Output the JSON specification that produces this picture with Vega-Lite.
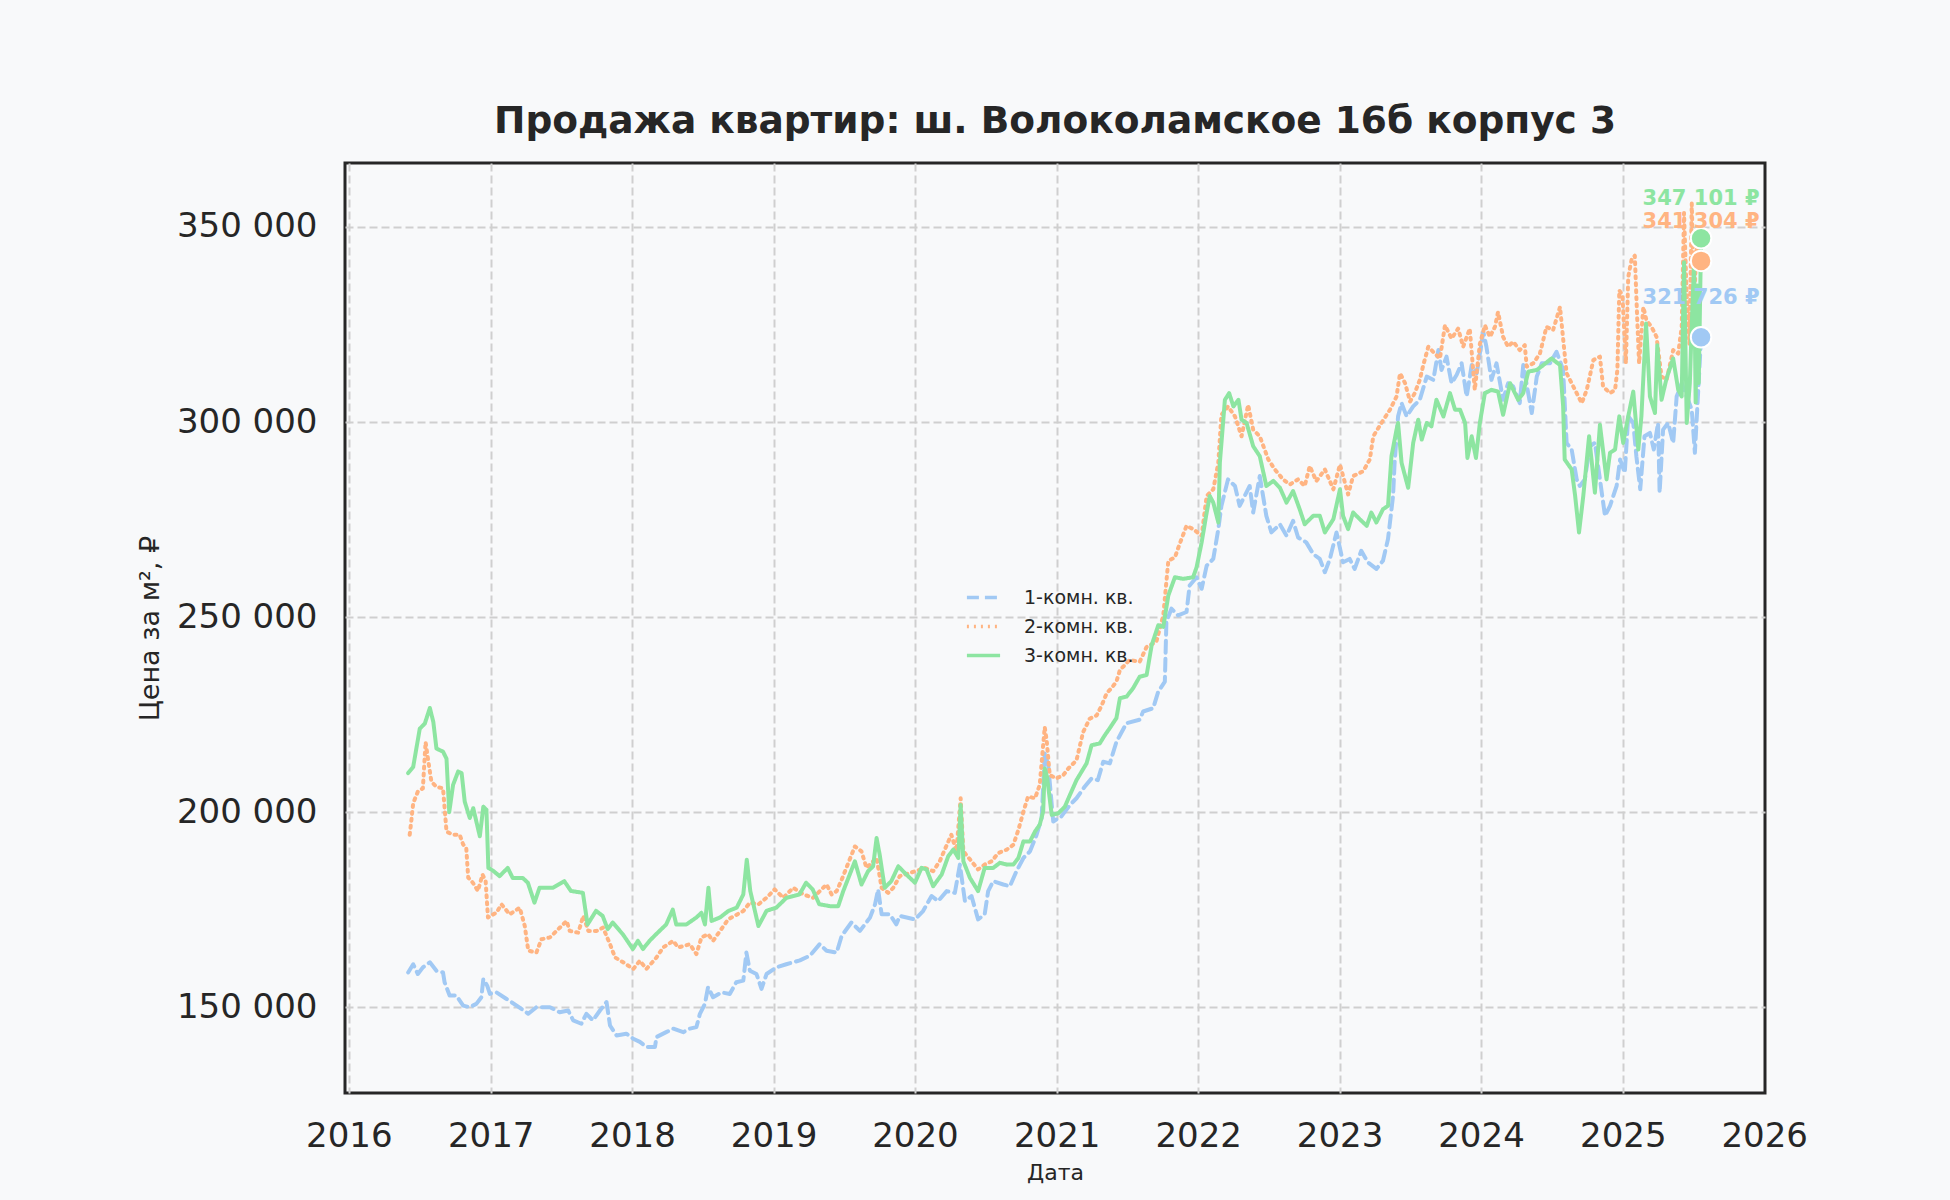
{
  "$schema": "https://vega.github.io/schema/vega-lite/v6.json",
  "width": 1420,
  "height": 930,
  "autosize": {"type": "none"},
  "padding": {"left": 345, "top": 163, "right": 185, "bottom": 107},
  "background": "#f8f9fa",
  "config": {
    "font": "DejaVu Sans",
    "locale": {"number": {"decimal": ",", "thousands": " ", "grouping": [3], "currency": ["", " ₽"]}},
    "view": {"fill": "#f8f9fa", "stroke": "#262626", "strokeWidth": 3},
    "axis": {
      "ticks": false, "domain": false, "grid": true,
      "gridColor": "#cfcfcf", "gridDash": [8, 4], "gridWidth": 2,
      "labelFontSize": 34, "labelColor": "#262626",
      "titleFontWeight": "normal", "titleColor": "#262626",
      "labelFlush": false, "labelOverlap": false
    }
  },
  "title": {
    "text": "Продажа квартир: ш. Волоколамское 16б корпус 3",
    "fontSize": 37.5, "fontWeight": "bold", "color": "#262626",
    "anchor": "middle", "offset": -7, "baseline": "alphabetic"
  },
  "data": {
    "values": [
      {"series": "1-комн. кв.", "date": "2016-06-02", "price": 158900},
      {"series": "1-комн. кв.", "date": "2016-06-15", "price": 161000},
      {"series": "1-комн. кв.", "date": "2016-06-27", "price": 158500},
      {"series": "1-комн. кв.", "date": "2016-07-10", "price": 160200},
      {"series": "1-комн. кв.", "date": "2016-07-28", "price": 161500},
      {"series": "1-комн. кв.", "date": "2016-08-14", "price": 159350},
      {"series": "1-комн. кв.", "date": "2016-08-31", "price": 158900},
      {"series": "1-комн. кв.", "date": "2016-09-04", "price": 156400},
      {"series": "1-комн. кв.", "date": "2016-09-17", "price": 153000},
      {"series": "1-комн. кв.", "date": "2016-10-04", "price": 153000},
      {"series": "1-комн. кв.", "date": "2016-10-22", "price": 150400},
      {"series": "1-комн. кв.", "date": "2016-11-08", "price": 150000},
      {"series": "1-комн. кв.", "date": "2016-11-25", "price": 150850},
      {"series": "1-комн. кв.", "date": "2016-12-08", "price": 152550},
      {"series": "1-комн. кв.", "date": "2016-12-13", "price": 157200},
      {"series": "1-комн. кв.", "date": "2016-12-23", "price": 155500},
      {"series": "1-комн. кв.", "date": "2016-12-30", "price": 153400},
      {"series": "1-комн. кв.", "date": "2017-01-16", "price": 153800},
      {"series": "1-комн. кв.", "date": "2017-02-11", "price": 152100},
      {"series": "1-комн. кв.", "date": "2017-03-09", "price": 150400},
      {"series": "1-комн. кв.", "date": "2017-04-08", "price": 148300},
      {"series": "1-комн. кв.", "date": "2017-04-29", "price": 150000},
      {"series": "1-комн. кв.", "date": "2017-06-03", "price": 150000},
      {"series": "1-комн. кв.", "date": "2017-06-28", "price": 148700},
      {"series": "1-комн. кв.", "date": "2017-07-20", "price": 149150},
      {"series": "1-комн. кв.", "date": "2017-08-02", "price": 146600},
      {"series": "1-комн. кв.", "date": "2017-08-23", "price": 145750},
      {"series": "1-комн. кв.", "date": "2017-09-05", "price": 148300},
      {"series": "1-комн. кв.", "date": "2017-09-22", "price": 146600},
      {"series": "1-комн. кв.", "date": "2017-10-10", "price": 149150},
      {"series": "1-комн. кв.", "date": "2017-10-27", "price": 151300},
      {"series": "1-комн. кв.", "date": "2017-11-05", "price": 145300},
      {"series": "1-комн. кв.", "date": "2017-11-22", "price": 142750},
      {"series": "1-комн. кв.", "date": "2017-12-17", "price": 143200},
      {"series": "1-комн. кв.", "date": "2018-01-04", "price": 141900},
      {"series": "1-комн. кв.", "date": "2018-01-21", "price": 141100},
      {"series": "1-комн. кв.", "date": "2018-02-07", "price": 139800},
      {"series": "1-комн. кв.", "date": "2018-03-01", "price": 139800},
      {"series": "1-комн. кв.", "date": "2018-03-05", "price": 142350},
      {"series": "1-комн. кв.", "date": "2018-03-30", "price": 143600},
      {"series": "1-комн. кв.", "date": "2018-04-17", "price": 144500},
      {"series": "1-комн. кв.", "date": "2018-05-13", "price": 143600},
      {"series": "1-комн. кв.", "date": "2018-05-30", "price": 144500},
      {"series": "1-комн. кв.", "date": "2018-06-16", "price": 144900},
      {"series": "1-комн. кв.", "date": "2018-06-25", "price": 148300},
      {"series": "1-комн. кв.", "date": "2018-07-08", "price": 150850},
      {"series": "1-комн. кв.", "date": "2018-07-16", "price": 155100},
      {"series": "1-комн. кв.", "date": "2018-07-29", "price": 152550},
      {"series": "1-комн. кв.", "date": "2018-08-20", "price": 153800},
      {"series": "1-комн. кв.", "date": "2018-09-10", "price": 153400},
      {"series": "1-комн. кв.", "date": "2018-09-27", "price": 156400},
      {"series": "1-комн. кв.", "date": "2018-10-15", "price": 156800},
      {"series": "1-комн. кв.", "date": "2018-10-23", "price": 164000},
      {"series": "1-комн. кв.", "date": "2018-11-01", "price": 159350},
      {"series": "1-комн. кв.", "date": "2018-11-18", "price": 158500},
      {"series": "1-комн. кв.", "date": "2018-12-01", "price": 154700},
      {"series": "1-комн. кв.", "date": "2018-12-14", "price": 158500},
      {"series": "1-комн. кв.", "date": "2019-01-08", "price": 160200},
      {"series": "1-комн. кв.", "date": "2019-02-03", "price": 161000},
      {"series": "1-комн. кв.", "date": "2019-03-10", "price": 162000},
      {"series": "1-комн. кв.", "date": "2019-04-05", "price": 163200},
      {"series": "1-комн. кв.", "date": "2019-04-30", "price": 166150},
      {"series": "1-комн. кв.", "date": "2019-05-18", "price": 164450},
      {"series": "1-комн. кв.", "date": "2019-06-13", "price": 164000},
      {"series": "1-комн. кв.", "date": "2019-06-26", "price": 168300},
      {"series": "1-комн. кв.", "date": "2019-07-21", "price": 171700},
      {"series": "1-комн. кв.", "date": "2019-08-12", "price": 169550},
      {"series": "1-комн. кв.", "date": "2019-09-07", "price": 172950},
      {"series": "1-комн. кв.", "date": "2019-09-20", "price": 176350},
      {"series": "1-комн. кв.", "date": "2019-09-28", "price": 180200},
      {"series": "1-комн. кв.", "date": "2019-10-07", "price": 173800},
      {"series": "1-комн. кв.", "date": "2019-10-28", "price": 173800},
      {"series": "1-комн. кв.", "date": "2019-11-14", "price": 171250},
      {"series": "1-комн. кв.", "date": "2019-11-23", "price": 173400},
      {"series": "1-комн. кв.", "date": "2020-01-01", "price": 172500},
      {"series": "1-комн. кв.", "date": "2020-01-22", "price": 174650},
      {"series": "1-комн. кв.", "date": "2020-02-13", "price": 178500},
      {"series": "1-комн. кв.", "date": "2020-03-01", "price": 177200},
      {"series": "1-комн. кв.", "date": "2020-03-23", "price": 179750},
      {"series": "1-комн. кв.", "date": "2020-04-13", "price": 179300},
      {"series": "1-комн. кв.", "date": "2020-04-26", "price": 186550},
      {"series": "1-комн. кв.", "date": "2020-05-09", "price": 177200},
      {"series": "1-комн. кв.", "date": "2020-05-26", "price": 178500},
      {"series": "1-комн. кв.", "date": "2020-06-12", "price": 172500},
      {"series": "1-комн. кв.", "date": "2020-06-29", "price": 173800},
      {"series": "1-комн. кв.", "date": "2020-07-08", "price": 179750},
      {"series": "1-комн. кв.", "date": "2020-07-21", "price": 182300},
      {"series": "1-комн. кв.", "date": "2020-08-16", "price": 181450},
      {"series": "1-комн. кв.", "date": "2020-09-02", "price": 181000},
      {"series": "1-комн. кв.", "date": "2020-09-19", "price": 184850},
      {"series": "1-комн. кв.", "date": "2020-10-07", "price": 188250},
      {"series": "1-комн. кв.", "date": "2020-10-24", "price": 189950},
      {"series": "1-комн. кв.", "date": "2020-11-10", "price": 194200},
      {"series": "1-комн. кв.", "date": "2020-11-23", "price": 198450},
      {"series": "1-комн. кв.", "date": "2020-12-01", "price": 215000},
      {"series": "1-комн. кв.", "date": "2020-12-10", "price": 212000},
      {"series": "1-комн. кв.", "date": "2020-12-23", "price": 197600},
      {"series": "1-комн. кв.", "date": "2021-01-13", "price": 198900},
      {"series": "1-комн. кв.", "date": "2021-02-04", "price": 201850},
      {"series": "1-комн. кв.", "date": "2021-02-21", "price": 203550},
      {"series": "1-комн. кв.", "date": "2021-03-14", "price": 206500},
      {"series": "1-комн. кв.", "date": "2021-04-01", "price": 208650},
      {"series": "1-комн. кв.", "date": "2021-04-17", "price": 208200},
      {"series": "1-комн. кв.", "date": "2021-05-01", "price": 212900},
      {"series": "1-комн. кв.", "date": "2021-05-18", "price": 212500},
      {"series": "1-комн. кв.", "date": "2021-06-04", "price": 218000},
      {"series": "1-комн. кв.", "date": "2021-06-30", "price": 222800},
      {"series": "1-комн. кв.", "date": "2021-08-03", "price": 223700},
      {"series": "1-комн. кв.", "date": "2021-08-12", "price": 225800},
      {"series": "1-комн. кв.", "date": "2021-09-07", "price": 226650},
      {"series": "1-комн. кв.", "date": "2021-09-20", "price": 230900},
      {"series": "1-комн. кв.", "date": "2021-10-07", "price": 233450},
      {"series": "1-комн. кв.", "date": "2021-10-11", "price": 248750},
      {"series": "1-комн. кв.", "date": "2021-10-24", "price": 252150},
      {"series": "1-комн. кв.", "date": "2021-11-10", "price": 250450},
      {"series": "1-комн. кв.", "date": "2021-12-02", "price": 251300},
      {"series": "1-комн. кв.", "date": "2021-12-10", "price": 258100},
      {"series": "1-комн. кв.", "date": "2021-12-28", "price": 260200},
      {"series": "1-комн. кв.", "date": "2022-01-10", "price": 257250},
      {"series": "1-комн. кв.", "date": "2022-01-23", "price": 263200},
      {"series": "1-комн. кв.", "date": "2022-02-09", "price": 264900},
      {"series": "1-комн. кв.", "date": "2022-02-22", "price": 272550},
      {"series": "1-комн. кв.", "date": "2022-03-02", "price": 278500},
      {"series": "1-комн. кв.", "date": "2022-03-19", "price": 285300},
      {"series": "1-комн. кв.", "date": "2022-04-06", "price": 283600},
      {"series": "1-комн. кв.", "date": "2022-04-18", "price": 278500},
      {"series": "1-комн. кв.", "date": "2022-05-14", "price": 283600},
      {"series": "1-комн. кв.", "date": "2022-05-23", "price": 276800},
      {"series": "1-комн. кв.", "date": "2022-06-09", "price": 286150},
      {"series": "1-комн. кв.", "date": "2022-06-26", "price": 275950},
      {"series": "1-комн. кв.", "date": "2022-07-09", "price": 271700},
      {"series": "1-комн. кв.", "date": "2022-07-31", "price": 273800},
      {"series": "1-комн. кв.", "date": "2022-08-17", "price": 270850},
      {"series": "1-комн. кв.", "date": "2022-09-03", "price": 274650},
      {"series": "1-комн. кв.", "date": "2022-09-16", "price": 270400},
      {"series": "1-комн. кв.", "date": "2022-10-07", "price": 269150},
      {"series": "1-комн. кв.", "date": "2022-10-25", "price": 266150},
      {"series": "1-комн. кв.", "date": "2022-11-11", "price": 264900},
      {"series": "1-комн. кв.", "date": "2022-11-24", "price": 261500},
      {"series": "1-комн. кв.", "date": "2022-12-07", "price": 264900},
      {"series": "1-комн. кв.", "date": "2022-12-24", "price": 271700},
      {"series": "1-комн. кв.", "date": "2023-01-10", "price": 264050},
      {"series": "1-комн. кв.", "date": "2023-01-27", "price": 264900},
      {"series": "1-комн. кв.", "date": "2023-02-09", "price": 262350},
      {"series": "1-комн. кв.", "date": "2023-02-26", "price": 267000},
      {"series": "1-комн. кв.", "date": "2023-03-15", "price": 264050},
      {"series": "1-комн. кв.", "date": "2023-04-06", "price": 262350},
      {"series": "1-комн. кв.", "date": "2023-04-23", "price": 264450},
      {"series": "1-комн. кв.", "date": "2023-05-06", "price": 270000},
      {"series": "1-комн. кв.", "date": "2023-05-19", "price": 281050},
      {"series": "1-комн. кв.", "date": "2023-05-23", "price": 289550},
      {"series": "1-комн. кв.", "date": "2023-06-01", "price": 301450},
      {"series": "1-комн. кв.", "date": "2023-06-10", "price": 304850},
      {"series": "1-комн. кв.", "date": "2023-06-23", "price": 301450},
      {"series": "1-комн. кв.", "date": "2023-07-10", "price": 304000},
      {"series": "1-комн. кв.", "date": "2023-07-27", "price": 305700},
      {"series": "1-комн. кв.", "date": "2023-08-14", "price": 311650},
      {"series": "1-комн. кв.", "date": "2023-08-31", "price": 310800},
      {"series": "1-комн. кв.", "date": "2023-09-13", "price": 318450},
      {"series": "1-комн. кв.", "date": "2023-09-21", "price": 313350},
      {"series": "1-комн. кв.", "date": "2023-10-04", "price": 316750},
      {"series": "1-комн. кв.", "date": "2023-10-17", "price": 309950},
      {"series": "1-комн. кв.", "date": "2023-10-30", "price": 312050},
      {"series": "1-комн. кв.", "date": "2023-11-12", "price": 315050},
      {"series": "1-комн. кв.", "date": "2023-11-25", "price": 306550},
      {"series": "1-комн. кв.", "date": "2023-12-08", "price": 314600},
      {"series": "1-комн. кв.", "date": "2023-12-21", "price": 312500},
      {"series": "1-комн. кв.", "date": "2024-01-07", "price": 323100},
      {"series": "1-комн. кв.", "date": "2024-01-15", "price": 319300},
      {"series": "1-комн. кв.", "date": "2024-01-28", "price": 310800},
      {"series": "1-комн. кв.", "date": "2024-02-10", "price": 315050},
      {"series": "1-комн. кв.", "date": "2024-02-27", "price": 305700},
      {"series": "1-комн. кв.", "date": "2024-03-11", "price": 309950},
      {"series": "1-комн. кв.", "date": "2024-03-24", "price": 309100},
      {"series": "1-комн. кв.", "date": "2024-04-10", "price": 304850},
      {"series": "1-комн. кв.", "date": "2024-04-19", "price": 314600},
      {"series": "1-комн. кв.", "date": "2024-05-11", "price": 302300},
      {"series": "1-комн. кв.", "date": "2024-05-24", "price": 311650},
      {"series": "1-комн. кв.", "date": "2024-06-06", "price": 315050},
      {"series": "1-комн. кв.", "date": "2024-06-27", "price": 315050},
      {"series": "1-комн. кв.", "date": "2024-07-14", "price": 318000},
      {"series": "1-комн. кв.", "date": "2024-07-31", "price": 313350},
      {"series": "1-комн. кв.", "date": "2024-08-09", "price": 294650},
      {"series": "1-комн. кв.", "date": "2024-08-22", "price": 292950},
      {"series": "1-комн. кв.", "date": "2024-09-04", "price": 285300},
      {"series": "1-комн. кв.", "date": "2024-09-12", "price": 283600},
      {"series": "1-комн. кв.", "date": "2024-09-25", "price": 285300},
      {"series": "1-комн. кв.", "date": "2024-10-08", "price": 293800},
      {"series": "1-комн. кв.", "date": "2024-10-21", "price": 294650},
      {"series": "1-комн. кв.", "date": "2024-11-03", "price": 285300},
      {"series": "1-комн. кв.", "date": "2024-11-16", "price": 275950},
      {"series": "1-комн. кв.", "date": "2024-11-29", "price": 278500},
      {"series": "1-комн. кв.", "date": "2024-12-16", "price": 283600},
      {"series": "1-комн. кв.", "date": "2024-12-25", "price": 290400},
      {"series": "1-комн. кв.", "date": "2025-01-06", "price": 287000},
      {"series": "1-комн. кв.", "date": "2025-01-15", "price": 301450},
      {"series": "1-комн. кв.", "date": "2025-01-28", "price": 299750},
      {"series": "1-комн. кв.", "date": "2025-02-05", "price": 291250},
      {"series": "1-комн. кв.", "date": "2025-02-15", "price": 282750},
      {"series": "1-комн. кв.", "date": "2025-02-26", "price": 296350},
      {"series": "1-комн. кв.", "date": "2025-03-12", "price": 297200},
      {"series": "1-комн. кв.", "date": "2025-03-22", "price": 292950},
      {"series": "1-комн. кв.", "date": "2025-04-02", "price": 299750},
      {"series": "1-комн. кв.", "date": "2025-04-06", "price": 281900},
      {"series": "1-комн. кв.", "date": "2025-04-15", "price": 298050},
      {"series": "1-комн. кв.", "date": "2025-04-28", "price": 299750},
      {"series": "1-комн. кв.", "date": "2025-05-11", "price": 294650},
      {"series": "1-комн. кв.", "date": "2025-05-20", "price": 306550},
      {"series": "1-комн. кв.", "date": "2025-06-02", "price": 309950},
      {"series": "1-комн. кв.", "date": "2025-06-15", "price": 306550},
      {"series": "1-комн. кв.", "date": "2025-06-28", "price": 303150},
      {"series": "1-комн. кв.", "date": "2025-07-06", "price": 292100},
      {"series": "1-комн. кв.", "date": "2025-07-22", "price": 321726},

      {"series": "2-комн. кв.", "date": "2016-06-06", "price": 194200},
      {"series": "2-комн. кв.", "date": "2016-06-10", "price": 197600},
      {"series": "2-комн. кв.", "date": "2016-06-15", "price": 202300},
      {"series": "2-комн. кв.", "date": "2016-06-27", "price": 205250},
      {"series": "2-комн. кв.", "date": "2016-07-10", "price": 206100},
      {"series": "2-комн. кв.", "date": "2016-07-17", "price": 218000},
      {"series": "2-комн. кв.", "date": "2016-07-23", "price": 213750},
      {"series": "2-комн. кв.", "date": "2016-08-01", "price": 207800},
      {"series": "2-комн. кв.", "date": "2016-08-14", "price": 206500},
      {"series": "2-комн. кв.", "date": "2016-08-31", "price": 206100},
      {"series": "2-комн. кв.", "date": "2016-09-09", "price": 195000},
      {"series": "2-комн. кв.", "date": "2016-09-26", "price": 194200},
      {"series": "2-комн. кв.", "date": "2016-10-13", "price": 194200},
      {"series": "2-комн. кв.", "date": "2016-10-22", "price": 191700},
      {"series": "2-комн. кв.", "date": "2016-10-30", "price": 190800},
      {"series": "2-комн. кв.", "date": "2016-11-04", "price": 183200},
      {"series": "2-комн. кв.", "date": "2016-11-16", "price": 181900},
      {"series": "2-комн. кв.", "date": "2016-11-29", "price": 179800},
      {"series": "2-комн. кв.", "date": "2016-12-11", "price": 184000},
      {"series": "2-комн. кв.", "date": "2016-12-19", "price": 182300},
      {"series": "2-комн. кв.", "date": "2016-12-25", "price": 173000},
      {"series": "2-комн. кв.", "date": "2017-01-16", "price": 174250},
      {"series": "2-комн. кв.", "date": "2017-01-29", "price": 176350},
      {"series": "2-комн. кв.", "date": "2017-02-19", "price": 173800},
      {"series": "2-комн. кв.", "date": "2017-03-17", "price": 175500},
      {"series": "2-комн. кв.", "date": "2017-03-30", "price": 170800},
      {"series": "2-комн. кв.", "date": "2017-04-08", "price": 164500},
      {"series": "2-комн. кв.", "date": "2017-04-29", "price": 164000},
      {"series": "2-комн. кв.", "date": "2017-05-12", "price": 167400},
      {"series": "2-комн. кв.", "date": "2017-06-03", "price": 167900},
      {"series": "2-комн. кв.", "date": "2017-06-20", "price": 169550},
      {"series": "2-комн. кв.", "date": "2017-07-16", "price": 172100},
      {"series": "2-комн. кв.", "date": "2017-07-24", "price": 169550},
      {"series": "2-комн. кв.", "date": "2017-08-15", "price": 169100},
      {"series": "2-комн. кв.", "date": "2017-08-28", "price": 173400},
      {"series": "2-комн. кв.", "date": "2017-09-10", "price": 169550},
      {"series": "2-комн. кв.", "date": "2017-10-01", "price": 169550},
      {"series": "2-комн. кв.", "date": "2017-10-18", "price": 170400},
      {"series": "2-комн. кв.", "date": "2017-11-05", "price": 166150},
      {"series": "2-комн. кв.", "date": "2017-11-18", "price": 162750},
      {"series": "2-комн. кв.", "date": "2017-12-09", "price": 161500},
      {"series": "2-комн. кв.", "date": "2018-01-04", "price": 159800},
      {"series": "2-комн. кв.", "date": "2018-01-21", "price": 161900},
      {"series": "2-комн. кв.", "date": "2018-02-07", "price": 159800},
      {"series": "2-комн. кв.", "date": "2018-03-05", "price": 162750},
      {"series": "2-комн. кв.", "date": "2018-03-22", "price": 165300},
      {"series": "2-комн. кв.", "date": "2018-04-17", "price": 167000},
      {"series": "2-комн. кв.", "date": "2018-04-30", "price": 165300},
      {"series": "2-комн. кв.", "date": "2018-05-30", "price": 166150},
      {"series": "2-комн. кв.", "date": "2018-06-16", "price": 163600},
      {"series": "2-комн. кв.", "date": "2018-06-29", "price": 167900},
      {"series": "2-комн. кв.", "date": "2018-07-16", "price": 168700},
      {"series": "2-комн. кв.", "date": "2018-07-29", "price": 167000},
      {"series": "2-комн. кв.", "date": "2018-08-16", "price": 169550},
      {"series": "2-комн. кв.", "date": "2018-09-06", "price": 172500},
      {"series": "2-комн. кв.", "date": "2018-10-15", "price": 174650},
      {"series": "2-комн. кв.", "date": "2018-11-01", "price": 176800},
      {"series": "2-комн. кв.", "date": "2018-11-23", "price": 176350},
      {"series": "2-комн. кв.", "date": "2018-12-14", "price": 178050},
      {"series": "2-комн. кв.", "date": "2019-01-04", "price": 180200},
      {"series": "2-комн. кв.", "date": "2019-01-26", "price": 178050},
      {"series": "2-комн. кв.", "date": "2019-02-21", "price": 180600},
      {"series": "2-комн. кв.", "date": "2019-03-19", "price": 178900},
      {"series": "2-комн. кв.", "date": "2019-04-13", "price": 178050},
      {"series": "2-комн. кв.", "date": "2019-05-18", "price": 181450},
      {"series": "2-комн. кв.", "date": "2019-05-31", "price": 178900},
      {"series": "2-комн. кв.", "date": "2019-06-13", "price": 179750},
      {"series": "2-комн. кв.", "date": "2019-06-26", "price": 182700},
      {"series": "2-комн. кв.", "date": "2019-07-08", "price": 185700},
      {"series": "2-комн. кв.", "date": "2019-07-30", "price": 191200},
      {"series": "2-комн. кв.", "date": "2019-08-16", "price": 189950},
      {"series": "2-комн. кв.", "date": "2019-08-29", "price": 185700},
      {"series": "2-комн. кв.", "date": "2019-09-24", "price": 188250},
      {"series": "2-комн. кв.", "date": "2019-10-07", "price": 180600},
      {"series": "2-комн. кв.", "date": "2019-10-24", "price": 179300},
      {"series": "2-комн. кв.", "date": "2019-11-06", "price": 180600},
      {"series": "2-комн. кв.", "date": "2019-11-23", "price": 183600},
      {"series": "2-комн. кв.", "date": "2019-12-19", "price": 184400},
      {"series": "2-комн. кв.", "date": "2020-01-27", "price": 185700},
      {"series": "2-комн. кв.", "date": "2020-02-17", "price": 184850},
      {"series": "2-комн. кв.", "date": "2020-03-05", "price": 187400},
      {"series": "2-комн. кв.", "date": "2020-03-18", "price": 190400},
      {"series": "2-комн. кв.", "date": "2020-04-04", "price": 194200},
      {"series": "2-комн. кв.", "date": "2020-04-17", "price": 189950},
      {"series": "2-комн. кв.", "date": "2020-04-28", "price": 203550},
      {"series": "2-комн. кв.", "date": "2020-05-05", "price": 189950},
      {"series": "2-комн. кв.", "date": "2020-05-26", "price": 187400},
      {"series": "2-комн. кв.", "date": "2020-06-12", "price": 185300},
      {"series": "2-комн. кв.", "date": "2020-06-29", "price": 186550},
      {"series": "2-комн. кв.", "date": "2020-07-17", "price": 187400},
      {"series": "2-комн. кв.", "date": "2020-08-03", "price": 189500},
      {"series": "2-комн. кв.", "date": "2020-08-25", "price": 190400},
      {"series": "2-комн. кв.", "date": "2020-09-11", "price": 191650},
      {"series": "2-комн. кв.", "date": "2020-09-24", "price": 195450},
      {"series": "2-комн. кв.", "date": "2020-10-07", "price": 200150},
      {"series": "2-комн. кв.", "date": "2020-10-19", "price": 204000},
      {"series": "2-комн. кв.", "date": "2020-11-06", "price": 203550},
      {"series": "2-комн. кв.", "date": "2020-11-18", "price": 206950},
      {"series": "2-комн. кв.", "date": "2020-12-01", "price": 221800},
      {"series": "2-комн. кв.", "date": "2020-12-06", "price": 218400},
      {"series": "2-комн. кв.", "date": "2020-12-14", "price": 209500},
      {"series": "2-комн. кв.", "date": "2020-12-31", "price": 208650},
      {"series": "2-комн. кв.", "date": "2021-01-18", "price": 209500},
      {"series": "2-комн. кв.", "date": "2021-01-31", "price": 211200},
      {"series": "2-комн. кв.", "date": "2021-02-21", "price": 213300},
      {"series": "2-комн. кв.", "date": "2021-03-10", "price": 220500},
      {"series": "2-комн. кв.", "date": "2021-03-27", "price": 223950},
      {"series": "2-комн. кв.", "date": "2021-04-14", "price": 224800},
      {"series": "2-комн. кв.", "date": "2021-04-27", "price": 227350},
      {"series": "2-комн. кв.", "date": "2021-05-10", "price": 230500},
      {"series": "2-комн. кв.", "date": "2021-05-22", "price": 231750},
      {"series": "2-комн. кв.", "date": "2021-06-04", "price": 233450},
      {"series": "2-комн. кв.", "date": "2021-06-13", "price": 236400},
      {"series": "2-комн. кв.", "date": "2021-07-08", "price": 239000},
      {"series": "2-комн. кв.", "date": "2021-08-03", "price": 238550},
      {"series": "2-комн. кв.", "date": "2021-08-21", "price": 242350},
      {"series": "2-комн. кв.", "date": "2021-09-15", "price": 243650},
      {"series": "2-комн. кв.", "date": "2021-10-03", "price": 250450},
      {"series": "2-комн. кв.", "date": "2021-10-16", "price": 264450},
      {"series": "2-комн. кв.", "date": "2021-11-02", "price": 265300},
      {"series": "2-комн. кв.", "date": "2021-11-14", "price": 268700},
      {"series": "2-комн. кв.", "date": "2021-12-02", "price": 273400},
      {"series": "2-комн. кв.", "date": "2021-12-19", "price": 272550},
      {"series": "2-комн. кв.", "date": "2022-01-10", "price": 270850},
      {"series": "2-комн. кв.", "date": "2022-01-23", "price": 281050},
      {"series": "2-комн. кв.", "date": "2022-02-09", "price": 282750},
      {"series": "2-комн. кв.", "date": "2022-02-22", "price": 289550},
      {"series": "2-комн. кв.", "date": "2022-03-02", "price": 301850},
      {"series": "2-комн. кв.", "date": "2022-03-19", "price": 304000},
      {"series": "2-комн. кв.", "date": "2022-04-06", "price": 301450},
      {"series": "2-комн. кв.", "date": "2022-04-23", "price": 296350},
      {"series": "2-комн. кв.", "date": "2022-05-10", "price": 304400},
      {"series": "2-комн. кв.", "date": "2022-05-23", "price": 298050},
      {"series": "2-комн. кв.", "date": "2022-06-09", "price": 296350},
      {"series": "2-комн. кв.", "date": "2022-07-01", "price": 290400},
      {"series": "2-комн. кв.", "date": "2022-07-18", "price": 287850},
      {"series": "2-комн. кв.", "date": "2022-08-08", "price": 285300},
      {"series": "2-комн. кв.", "date": "2022-08-26", "price": 284000},
      {"series": "2-комн. кв.", "date": "2022-09-16", "price": 285300},
      {"series": "2-комн. кв.", "date": "2022-10-03", "price": 283600},
      {"series": "2-комн. кв.", "date": "2022-10-16", "price": 288700},
      {"series": "2-комн. кв.", "date": "2022-11-02", "price": 284850},
      {"series": "2-комн. кв.", "date": "2022-11-24", "price": 287850},
      {"series": "2-комн. кв.", "date": "2022-12-16", "price": 282750},
      {"series": "2-комн. кв.", "date": "2023-01-02", "price": 289100},
      {"series": "2-комн. кв.", "date": "2023-01-23", "price": 281450},
      {"series": "2-комн. кв.", "date": "2023-02-05", "price": 286150},
      {"series": "2-комн. кв.", "date": "2023-03-03", "price": 287400},
      {"series": "2-комн. кв.", "date": "2023-03-20", "price": 290400},
      {"series": "2-комн. кв.", "date": "2023-03-29", "price": 296350},
      {"series": "2-комн. кв.", "date": "2023-04-19", "price": 299750},
      {"series": "2-комн. кв.", "date": "2023-05-11", "price": 303150},
      {"series": "2-комн. кв.", "date": "2023-05-28", "price": 306550},
      {"series": "2-комн. кв.", "date": "2023-06-06", "price": 312500},
      {"series": "2-комн. кв.", "date": "2023-06-19", "price": 309950},
      {"series": "2-комн. кв.", "date": "2023-07-02", "price": 305250},
      {"series": "2-комн. кв.", "date": "2023-07-14", "price": 307400},
      {"series": "2-комн. кв.", "date": "2023-07-27", "price": 310800},
      {"series": "2-комн. кв.", "date": "2023-08-05", "price": 314600},
      {"series": "2-комн. кв.", "date": "2023-08-18", "price": 319300},
      {"series": "2-комн. кв.", "date": "2023-09-04", "price": 317550},
      {"series": "2-комн. кв.", "date": "2023-09-17", "price": 316300},
      {"series": "2-комн. кв.", "date": "2023-09-30", "price": 324800},
      {"series": "2-комн. кв.", "date": "2023-10-17", "price": 321400},
      {"series": "2-комн. кв.", "date": "2023-11-03", "price": 323950},
      {"series": "2-комн. кв.", "date": "2023-11-16", "price": 319300},
      {"series": "2-комн. кв.", "date": "2023-12-03", "price": 323950},
      {"series": "2-комн. кв.", "date": "2023-12-16", "price": 308250},
      {"series": "2-комн. кв.", "date": "2023-12-29", "price": 320000},
      {"series": "2-комн. кв.", "date": "2024-01-11", "price": 324800},
      {"series": "2-комн. кв.", "date": "2024-01-24", "price": 321850},
      {"series": "2-комн. кв.", "date": "2024-02-06", "price": 324400},
      {"series": "2-комн. кв.", "date": "2024-02-14", "price": 328200},
      {"series": "2-комн. кв.", "date": "2024-02-27", "price": 321850},
      {"series": "2-комн. кв.", "date": "2024-03-11", "price": 319300},
      {"series": "2-комн. кв.", "date": "2024-03-24", "price": 320600},
      {"series": "2-комн. кв.", "date": "2024-04-10", "price": 318450},
      {"series": "2-комн. кв.", "date": "2024-04-23", "price": 319700},
      {"series": "2-комн. кв.", "date": "2024-04-28", "price": 314200},
      {"series": "2-комн. кв.", "date": "2024-05-15", "price": 315050},
      {"series": "2-комн. кв.", "date": "2024-06-01", "price": 317550},
      {"series": "2-комн. кв.", "date": "2024-06-18", "price": 324400},
      {"series": "2-комн. кв.", "date": "2024-07-05", "price": 323550},
      {"series": "2-комн. кв.", "date": "2024-07-23", "price": 329500},
      {"series": "2-комн. кв.", "date": "2024-07-30", "price": 322300},
      {"series": "2-комн. кв.", "date": "2024-08-09", "price": 312500},
      {"series": "2-комн. кв.", "date": "2024-08-22", "price": 309950},
      {"series": "2-комн. кв.", "date": "2024-09-04", "price": 307400},
      {"series": "2-комн. кв.", "date": "2024-09-17", "price": 304850},
      {"series": "2-комн. кв.", "date": "2024-09-30", "price": 308250},
      {"series": "2-комн. кв.", "date": "2024-10-17", "price": 315900},
      {"series": "2-комн. кв.", "date": "2024-11-03", "price": 316750},
      {"series": "2-комн. кв.", "date": "2024-11-11", "price": 309100},
      {"series": "2-комн. кв.", "date": "2024-11-29", "price": 307400},
      {"series": "2-комн. кв.", "date": "2024-12-12", "price": 308250},
      {"series": "2-комн. кв.", "date": "2024-12-18", "price": 313350},
      {"series": "2-комн. кв.", "date": "2024-12-23", "price": 333750},
      {"series": "2-комн. кв.", "date": "2024-12-31", "price": 332500},
      {"series": "2-комн. кв.", "date": "2025-01-09", "price": 315050},
      {"series": "2-комн. кв.", "date": "2025-01-15", "price": 337150},
      {"series": "2-комн. кв.", "date": "2025-01-24", "price": 341800},
      {"series": "2-комн. кв.", "date": "2025-02-01", "price": 342650},
      {"series": "2-комн. кв.", "date": "2025-02-07", "price": 326950},
      {"series": "2-комн. кв.", "date": "2025-02-12", "price": 315050},
      {"series": "2-комн. кв.", "date": "2025-02-23", "price": 329500},
      {"series": "2-комн. кв.", "date": "2025-03-03", "price": 326100},
      {"series": "2-комн. кв.", "date": "2025-03-16", "price": 324400},
      {"series": "2-комн. кв.", "date": "2025-03-29", "price": 321850},
      {"series": "2-комн. кв.", "date": "2025-04-11", "price": 311650},
      {"series": "2-комн. кв.", "date": "2025-04-24", "price": 310800},
      {"series": "2-комн. кв.", "date": "2025-05-11", "price": 318450},
      {"series": "2-комн. кв.", "date": "2025-05-24", "price": 317550},
      {"series": "2-комн. кв.", "date": "2025-06-02", "price": 324400},
      {"series": "2-комн. кв.", "date": "2025-06-08", "price": 353600},
      {"series": "2-комн. кв.", "date": "2025-06-15", "price": 332000},
      {"series": "2-комн. кв.", "date": "2025-06-22", "price": 320000},
      {"series": "2-комн. кв.", "date": "2025-06-28", "price": 356000},
      {"series": "2-комн. кв.", "date": "2025-07-04", "price": 330000},
      {"series": "2-комн. кв.", "date": "2025-07-10", "price": 345000},
      {"series": "2-комн. кв.", "date": "2025-07-22", "price": 341304},

      {"series": "3-комн. кв.", "date": "2016-06-02", "price": 210000},
      {"series": "3-комн. кв.", "date": "2016-06-15", "price": 211600},
      {"series": "3-комн. кв.", "date": "2016-07-02", "price": 221400},
      {"series": "3-комн. кв.", "date": "2016-07-15", "price": 222700},
      {"series": "3-комн. кв.", "date": "2016-07-28", "price": 226700},
      {"series": "3-комн. кв.", "date": "2016-08-06", "price": 223100},
      {"series": "3-комн. кв.", "date": "2016-08-14", "price": 216300},
      {"series": "3-комн. кв.", "date": "2016-08-31", "price": 215500},
      {"series": "3-комн. кв.", "date": "2016-09-09", "price": 213700},
      {"series": "3-комн. кв.", "date": "2016-09-16", "price": 200000},
      {"series": "3-комн. кв.", "date": "2016-09-26", "price": 207000},
      {"series": "3-комн. кв.", "date": "2016-10-09", "price": 210400},
      {"series": "3-комн. кв.", "date": "2016-10-18", "price": 210000},
      {"series": "3-комн. кв.", "date": "2016-10-26", "price": 202700},
      {"series": "3-комн. кв.", "date": "2016-11-08", "price": 198500},
      {"series": "3-комн. кв.", "date": "2016-11-17", "price": 201000},
      {"series": "3-комн. кв.", "date": "2016-12-04", "price": 193800},
      {"series": "3-комн. кв.", "date": "2016-12-13", "price": 201400},
      {"series": "3-комн. кв.", "date": "2016-12-21", "price": 200600},
      {"series": "3-комн. кв.", "date": "2016-12-26", "price": 185700},
      {"series": "3-комн. кв.", "date": "2017-01-07", "price": 185000},
      {"series": "3-комн. кв.", "date": "2017-01-24", "price": 183600},
      {"series": "3-комн. кв.", "date": "2017-02-14", "price": 185700},
      {"series": "3-комн. кв.", "date": "2017-02-27", "price": 183100},
      {"series": "3-комн. кв.", "date": "2017-03-25", "price": 183100},
      {"series": "3-комн. кв.", "date": "2017-04-07", "price": 181900},
      {"series": "3-комн. кв.", "date": "2017-04-24", "price": 176800},
      {"series": "3-комн. кв.", "date": "2017-05-07", "price": 180600},
      {"series": "3-комн. кв.", "date": "2017-06-10", "price": 180600},
      {"series": "3-комн. кв.", "date": "2017-07-10", "price": 182300},
      {"series": "3-комн. кв.", "date": "2017-07-27", "price": 179800},
      {"series": "3-комн. кв.", "date": "2017-08-27", "price": 179300},
      {"series": "3-комн. кв.", "date": "2017-09-08", "price": 171200},
      {"series": "3-комн. кв.", "date": "2017-09-30", "price": 174700},
      {"series": "3-комн. кв.", "date": "2017-10-17", "price": 173400},
      {"series": "3-комн. кв.", "date": "2017-10-30", "price": 170000},
      {"series": "3-комн. кв.", "date": "2017-11-12", "price": 171700},
      {"series": "3-комн. кв.", "date": "2017-12-08", "price": 168700},
      {"series": "3-комн. кв.", "date": "2018-01-03", "price": 164900},
      {"series": "3-комн. кв.", "date": "2018-01-16", "price": 167000},
      {"series": "3-комн. кв.", "date": "2018-01-29", "price": 164900},
      {"series": "3-комн. кв.", "date": "2018-02-15", "price": 167000},
      {"series": "3-комн. кв.", "date": "2018-03-04", "price": 168700},
      {"series": "3-комн. кв.", "date": "2018-03-30", "price": 171200},
      {"series": "3-комн. кв.", "date": "2018-04-16", "price": 175000},
      {"series": "3-комн. кв.", "date": "2018-04-25", "price": 171200},
      {"series": "3-комн. кв.", "date": "2018-05-21", "price": 171200},
      {"series": "3-комн. кв.", "date": "2018-06-16", "price": 173000},
      {"series": "3-комн. кв.", "date": "2018-06-29", "price": 174200},
      {"series": "3-комн. кв.", "date": "2018-07-08", "price": 171200},
      {"series": "3-комн. кв.", "date": "2018-07-17", "price": 180600},
      {"series": "3-комн. кв.", "date": "2018-07-25", "price": 172100},
      {"series": "3-комн. кв.", "date": "2018-08-16", "price": 173000},
      {"series": "3-комн. кв.", "date": "2018-09-07", "price": 174700},
      {"series": "3-комн. кв.", "date": "2018-09-28", "price": 175500},
      {"series": "3-комн. кв.", "date": "2018-10-15", "price": 178900},
      {"series": "3-комн. кв.", "date": "2018-10-24", "price": 187800},
      {"series": "3-комн. кв.", "date": "2018-11-02", "price": 179800},
      {"series": "3-комн. кв.", "date": "2018-11-23", "price": 170800},
      {"series": "3-комн. кв.", "date": "2018-12-14", "price": 174700},
      {"series": "3-комн. кв.", "date": "2019-01-08", "price": 175500},
      {"series": "3-комн. кв.", "date": "2019-02-03", "price": 178000},
      {"series": "3-комн. кв.", "date": "2019-03-09", "price": 178900},
      {"series": "3-комн. кв.", "date": "2019-03-26", "price": 181900},
      {"series": "3-комн. кв.", "date": "2019-04-12", "price": 180200},
      {"series": "3-комн. кв.", "date": "2019-04-29", "price": 176400},
      {"series": "3-комн. кв.", "date": "2019-05-26", "price": 175900},
      {"series": "3-комн. кв.", "date": "2019-06-17", "price": 175900},
      {"series": "3-комн. кв.", "date": "2019-06-30", "price": 179750},
      {"series": "3-комн. кв.", "date": "2019-07-30", "price": 187400},
      {"series": "3-комн. кв.", "date": "2019-08-16", "price": 181450},
      {"series": "3-комн. кв.", "date": "2019-09-02", "price": 184850},
      {"series": "3-комн. кв.", "date": "2019-09-15", "price": 186100},
      {"series": "3-комн. кв.", "date": "2019-09-24", "price": 193350},
      {"series": "3-комн. кв.", "date": "2019-10-02", "price": 189100},
      {"series": "3-комн. кв.", "date": "2019-10-15", "price": 180600},
      {"series": "3-комн. кв.", "date": "2019-11-01", "price": 182300},
      {"series": "3-комн. кв.", "date": "2019-11-19", "price": 186100},
      {"series": "3-комн. кв.", "date": "2019-12-10", "price": 184000},
      {"series": "3-комн. кв.", "date": "2020-01-01", "price": 181900},
      {"series": "3-комн. кв.", "date": "2020-01-18", "price": 185700},
      {"series": "3-комн. кв.", "date": "2020-01-31", "price": 185300},
      {"series": "3-комн. кв.", "date": "2020-02-17", "price": 181000},
      {"series": "3-комн. кв.", "date": "2020-03-10", "price": 184000},
      {"series": "3-комн. кв.", "date": "2020-03-27", "price": 188700},
      {"series": "3-комн. кв.", "date": "2020-04-09", "price": 190400},
      {"series": "3-комн. кв.", "date": "2020-04-22", "price": 188250},
      {"series": "3-комн. кв.", "date": "2020-04-28", "price": 201850},
      {"series": "3-комн. кв.", "date": "2020-05-05", "price": 187400},
      {"series": "3-комн. кв.", "date": "2020-05-22", "price": 183150},
      {"series": "3-комн. кв.", "date": "2020-06-12", "price": 179750},
      {"series": "3-комн. кв.", "date": "2020-06-29", "price": 185700},
      {"series": "3-комн. кв.", "date": "2020-07-21", "price": 185700},
      {"series": "3-комн. кв.", "date": "2020-08-07", "price": 187000},
      {"series": "3-комн. кв.", "date": "2020-08-25", "price": 186550},
      {"series": "3-комн. кв.", "date": "2020-09-11", "price": 186550},
      {"series": "3-комн. кв.", "date": "2020-09-24", "price": 188250},
      {"series": "3-комн. кв.", "date": "2020-10-07", "price": 192500},
      {"series": "3-комн. кв.", "date": "2020-10-24", "price": 192500},
      {"series": "3-комн. кв.", "date": "2020-11-06", "price": 195050},
      {"series": "3-комн. кв.", "date": "2020-11-18", "price": 196750},
      {"series": "3-комн. кв.", "date": "2020-11-27", "price": 200150},
      {"series": "3-комн. кв.", "date": "2020-12-01", "price": 211200},
      {"series": "3-комн. кв.", "date": "2020-12-07", "price": 209000},
      {"series": "3-комн. кв.", "date": "2020-12-19", "price": 199300},
      {"series": "3-комн. кв.", "date": "2021-01-05", "price": 199700},
      {"series": "3-комн. кв.", "date": "2021-01-22", "price": 201400},
      {"series": "3-комн. кв.", "date": "2021-02-04", "price": 204400},
      {"series": "3-комн. кв.", "date": "2021-02-21", "price": 208200},
      {"series": "3-комн. кв.", "date": "2021-03-19", "price": 212500},
      {"series": "3-комн. кв.", "date": "2021-04-01", "price": 217150},
      {"series": "3-комн. кв.", "date": "2021-04-22", "price": 217600},
      {"series": "3-комн. кв.", "date": "2021-05-05", "price": 219700},
      {"series": "3-комн. кв.", "date": "2021-05-18", "price": 221550},
      {"series": "3-комн. кв.", "date": "2021-06-04", "price": 224100},
      {"series": "3-комн. кв.", "date": "2021-06-13", "price": 229200},
      {"series": "3-комн. кв.", "date": "2021-06-30", "price": 229600},
      {"series": "3-комн. кв.", "date": "2021-07-17", "price": 231750},
      {"series": "3-комн. кв.", "date": "2021-08-03", "price": 234700},
      {"series": "3-комн. кв.", "date": "2021-08-21", "price": 235150},
      {"series": "3-комн. кв.", "date": "2021-09-03", "price": 242800},
      {"series": "3-комн. кв.", "date": "2021-09-20", "price": 247900},
      {"series": "3-комн. кв.", "date": "2021-10-03", "price": 247500},
      {"series": "3-комн. кв.", "date": "2021-10-16", "price": 255550},
      {"series": "3-комн. кв.", "date": "2021-11-02", "price": 260200},
      {"series": "3-комн. кв.", "date": "2021-11-23", "price": 259800},
      {"series": "3-комн. кв.", "date": "2021-12-19", "price": 260200},
      {"series": "3-комн. кв.", "date": "2021-12-28", "price": 262800},
      {"series": "3-комн. кв.", "date": "2022-01-10", "price": 269150},
      {"series": "3-комн. кв.", "date": "2022-01-23", "price": 276800},
      {"series": "3-комн. кв.", "date": "2022-01-31", "price": 281050},
      {"series": "3-комн. кв.", "date": "2022-02-09", "price": 279350},
      {"series": "3-комн. кв.", "date": "2022-02-22", "price": 274250},
      {"series": "3-комн. кв.", "date": "2022-02-26", "price": 289550},
      {"series": "3-комн. кв.", "date": "2022-03-11", "price": 305700},
      {"series": "3-комн. кв.", "date": "2022-03-22", "price": 307400},
      {"series": "3-комн. кв.", "date": "2022-04-02", "price": 304000},
      {"series": "3-комн. кв.", "date": "2022-04-15", "price": 305700},
      {"series": "3-комн. кв.", "date": "2022-04-23", "price": 300600},
      {"series": "3-комн. кв.", "date": "2022-05-06", "price": 299750},
      {"series": "3-комн. кв.", "date": "2022-05-23", "price": 293800},
      {"series": "3-комн. кв.", "date": "2022-06-09", "price": 291250},
      {"series": "3-комн. кв.", "date": "2022-06-26", "price": 283600},
      {"series": "3-комн. кв.", "date": "2022-07-14", "price": 284900},
      {"series": "3-комн. кв.", "date": "2022-07-31", "price": 283150},
      {"series": "3-комн. кв.", "date": "2022-08-17", "price": 279350},
      {"series": "3-комн. кв.", "date": "2022-09-03", "price": 282300},
      {"series": "3-комн. кв.", "date": "2022-09-20", "price": 277650},
      {"series": "3-комн. кв.", "date": "2022-10-03", "price": 273800},
      {"series": "3-комн. кв.", "date": "2022-10-25", "price": 275950},
      {"series": "3-комн. кв.", "date": "2022-11-11", "price": 275950},
      {"series": "3-комн. кв.", "date": "2022-11-24", "price": 271700},
      {"series": "3-комн. кв.", "date": "2022-12-16", "price": 275100},
      {"series": "3-комн. кв.", "date": "2023-01-02", "price": 282750},
      {"series": "3-комн. кв.", "date": "2023-01-10", "price": 275950},
      {"series": "3-комн. кв.", "date": "2023-01-23", "price": 272550},
      {"series": "3-комн. кв.", "date": "2023-02-05", "price": 276800},
      {"series": "3-комн. кв.", "date": "2023-02-22", "price": 275100},
      {"series": "3-комн. кв.", "date": "2023-03-12", "price": 273400},
      {"series": "3-комн. кв.", "date": "2023-03-24", "price": 276800},
      {"series": "3-комн. кв.", "date": "2023-04-06", "price": 274250},
      {"series": "3-комн. кв.", "date": "2023-04-23", "price": 277650},
      {"series": "3-комн. кв.", "date": "2023-05-06", "price": 278500},
      {"series": "3-комн. кв.", "date": "2023-05-15", "price": 291250},
      {"series": "3-комн. кв.", "date": "2023-05-28", "price": 298050},
      {"series": "3-комн. кв.", "date": "2023-06-01", "price": 299750},
      {"series": "3-комн. кв.", "date": "2023-06-10", "price": 289550},
      {"series": "3-комн. кв.", "date": "2023-06-27", "price": 283150},
      {"series": "3-комн. кв.", "date": "2023-07-10", "price": 294650},
      {"series": "3-комн. кв.", "date": "2023-07-23", "price": 300600},
      {"series": "3-комн. кв.", "date": "2023-08-01", "price": 295500},
      {"series": "3-комн. кв.", "date": "2023-08-14", "price": 299750},
      {"series": "3-комн. кв.", "date": "2023-08-26", "price": 298900},
      {"series": "3-комн. кв.", "date": "2023-09-08", "price": 305700},
      {"series": "3-комн. кв.", "date": "2023-09-26", "price": 301450},
      {"series": "3-комн. кв.", "date": "2023-10-13", "price": 307400},
      {"series": "3-комн. кв.", "date": "2023-10-26", "price": 303150},
      {"series": "3-комн. кв.", "date": "2023-11-08", "price": 303150},
      {"series": "3-комн. кв.", "date": "2023-11-21", "price": 299750},
      {"series": "3-комн. кв.", "date": "2023-11-27", "price": 290800},
      {"series": "3-комн. кв.", "date": "2023-12-08", "price": 296350},
      {"series": "3-комн. кв.", "date": "2023-12-19", "price": 290800},
      {"series": "3-комн. кв.", "date": "2023-12-29", "price": 299750},
      {"series": "3-комн. кв.", "date": "2024-01-11", "price": 307400},
      {"series": "3-комн. кв.", "date": "2024-01-28", "price": 308250},
      {"series": "3-комн. кв.", "date": "2024-02-14", "price": 307800},
      {"series": "3-комн. кв.", "date": "2024-02-27", "price": 301850},
      {"series": "3-комн. кв.", "date": "2024-03-16", "price": 309950},
      {"series": "3-комн. кв.", "date": "2024-04-06", "price": 305700},
      {"series": "3-комн. кв.", "date": "2024-04-19", "price": 307400},
      {"series": "3-комн. кв.", "date": "2024-05-02", "price": 312900},
      {"series": "3-комн. кв.", "date": "2024-05-24", "price": 313350},
      {"series": "3-комн. кв.", "date": "2024-06-10", "price": 314600},
      {"series": "3-комн. кв.", "date": "2024-07-01", "price": 316300},
      {"series": "3-комн. кв.", "date": "2024-07-23", "price": 314600},
      {"series": "3-комн. кв.", "date": "2024-07-31", "price": 304000},
      {"series": "3-комн. кв.", "date": "2024-08-04", "price": 290400},
      {"series": "3-комн. кв.", "date": "2024-08-22", "price": 287850},
      {"series": "3-комн. кв.", "date": "2024-08-31", "price": 281050},
      {"series": "3-комн. кв.", "date": "2024-09-10", "price": 271700},
      {"series": "3-комн. кв.", "date": "2024-09-21", "price": 281050},
      {"series": "3-комн. кв.", "date": "2024-10-06", "price": 296350},
      {"series": "3-комн. кв.", "date": "2024-10-21", "price": 281900},
      {"series": "3-комн. кв.", "date": "2024-11-03", "price": 299300},
      {"series": "3-комн. кв.", "date": "2024-11-20", "price": 285300},
      {"series": "3-комн. кв.", "date": "2024-11-29", "price": 292100},
      {"series": "3-комн. кв.", "date": "2024-12-12", "price": 292950},
      {"series": "3-комн. кв.", "date": "2024-12-23", "price": 301450},
      {"series": "3-комн. кв.", "date": "2025-01-02", "price": 294650},
      {"series": "3-комн. кв.", "date": "2025-01-15", "price": 301450},
      {"series": "3-комн. кв.", "date": "2025-01-28", "price": 307800},
      {"series": "3-комн. кв.", "date": "2025-02-10", "price": 292950},
      {"series": "3-комн. кв.", "date": "2025-02-18", "price": 301450},
      {"series": "3-комн. кв.", "date": "2025-03-02", "price": 325250},
      {"series": "3-комн. кв.", "date": "2025-03-12", "price": 306550},
      {"series": "3-комн. кв.", "date": "2025-03-25", "price": 302300},
      {"series": "3-комн. кв.", "date": "2025-03-31", "price": 319700},
      {"series": "3-комн. кв.", "date": "2025-04-11", "price": 305700},
      {"series": "3-комн. кв.", "date": "2025-04-24", "price": 311200},
      {"series": "3-комн. кв.", "date": "2025-05-11", "price": 316300},
      {"series": "3-комн. кв.", "date": "2025-05-24", "price": 308250},
      {"series": "3-комн. кв.", "date": "2025-06-02", "price": 306550},
      {"series": "3-комн. кв.", "date": "2025-06-08", "price": 340970},
      {"series": "3-комн. кв.", "date": "2025-06-15", "price": 299750},
      {"series": "3-комн. кв.", "date": "2025-06-23", "price": 309950},
      {"series": "3-комн. кв.", "date": "2025-06-28", "price": 325000},
      {"series": "3-комн. кв.", "date": "2025-07-04", "price": 341000},
      {"series": "3-комн. кв.", "date": "2025-07-08", "price": 305000},
      {"series": "3-комн. кв.", "date": "2025-07-12", "price": 335000},
      {"series": "3-комн. кв.", "date": "2025-07-16", "price": 310000},
      {"series": "3-комн. кв.", "date": "2025-07-22", "price": 347101}
    ]
  },
  "layer": [
    {
      "mark": {"type": "line", "strokeWidth": 4, "strokeCap": "round", "strokeJoin": "round"},
      "encoding": {
        "x": {
          "field": "date", "type": "temporal",
          "scale": {"domain": ["2015-12-22", "2026-01-03"]},
          "axis": {
            "format": "%Y", "tickCount": {"interval": "year", "step": 1},
            "labelPadding": 26, "title": "Дата", "titleFontSize": 22, "titlePadding": 9,
            "gridOpacity": {"condition": {"test": "year(datum.value) >= 2026", "value": 0}, "value": 1}
          }
        },
        "y": {
          "field": "price", "type": "quantitative",
          "scale": {"domain": [128000, 366400], "nice": false, "zero": false},
          "axis": {
            "values": [150000, 200000, 250000, 300000, 350000], "format": ",.0f",
            "labelPadding": 28, "title": "Цена за м², ₽", "titleFontSize": 27, "titlePadding": 12
          }
        },
        "color": {
          "field": "series", "type": "nominal",
          "scale": {"domain": ["1-комн. кв.", "2-комн. кв.", "3-комн. кв."], "range": ["#a1c9f4", "#ffb482", "#8de5a1"]},
          "legend": {
            "orient": "none", "legendX": 620, "legendY": 416, "title": null,
            "labelFontSize": 19, "labelColor": "#262626",
            "symbolType": "stroke", "symbolSize": 1100, "symbolStrokeWidth": 3.5,
            "labelOffset": 22, "rowPadding": 0, "padding": 0
          }
        },
        "strokeDash": {
          "field": "series", "type": "nominal",
          "scale": {"domain": ["1-комн. кв.", "2-комн. кв.", "3-комн. кв."], "range": [[12, 6], [2, 5], [1, 0]]},
          "legend": {
            "orient": "none", "legendX": 620, "legendY": 416, "title": null,
            "labelFontSize": 19, "labelColor": "#262626",
            "symbolType": "stroke", "symbolSize": 1100, "symbolStrokeWidth": 3.5,
            "labelOffset": 22, "rowPadding": 0, "padding": 0
          }
        }
      }
    },
    {
      "transform": [
        {"window": [{"op": "row_number", "as": "rank"}], "groupby": ["series"], "sort": [{"field": "date", "order": "descending"}]},
        {"filter": "datum.rank == 1"}
      ],
      "mark": {"type": "circle", "size": 420, "opacity": 1, "stroke": "white", "strokeWidth": 2},
      "encoding": {
        "x": {"field": "date", "type": "temporal"},
        "y": {"field": "price", "type": "quantitative"},
        "color": {"field": "series", "type": "nominal", "legend": null}
      }
    },
    {
      "transform": [
        {"window": [{"op": "row_number", "as": "rank"}], "groupby": ["series"], "sort": [{"field": "date", "order": "descending"}]},
        {"filter": "datum.rank == 1"}
      ],
      "mark": {"type": "text", "fontSize": 21, "fontWeight": "bold", "dy": -33, "baseline": "alphabetic"},
      "encoding": {
        "x": {"field": "date", "type": "temporal"},
        "y": {"field": "price", "type": "quantitative"},
        "text": {"field": "price", "type": "quantitative", "format": "$,.0f"},
        "color": {"field": "series", "type": "nominal", "legend": null}
      }
    }
  ]
}
